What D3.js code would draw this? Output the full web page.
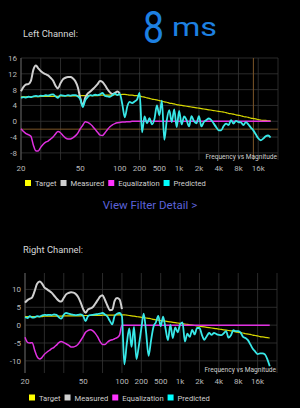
<!DOCTYPE html>
<html lang="en">
  <head>
    <meta charset="utf-8">
    <title>Filter Response</title>
    <script src="https://d3js.org/d3.v7.min.js"></script>
    <style>
      html, body { margin: 0; padding: 0; background: #000; }
    </style>
  </head>
  <body>
    <script type="text/javascript">
      // frequency points shared by every series (Hz)
      const freqs = [
        20,20.8,21.6,22.4,23.3,24.2,25.2,26.1,
        27.1,28.2,29.3,30.4,31.6,32.8,34.1,35.4,
        36.8,38.2,39.7,41.3,42.9,44.5,46.3,48.1,
        50,52.2,54.5,56.9,59.5,62.1,64.8,67.7,
        70.7,73.8,77.1,80.5,84.1,87.8,91.7,95.8,
        100,109,119,130,141,154,168,183,
        200,224,251,282,316,355,398,446,
        500,545,595,648,707,771,841,917,
        1000,1090,1189,1297,1414,1542,1682,1834,
        2000,2181,2378,2594,2828,3084,3364,3668,
        4000,4362,4757,5187,5657,6169,6727,7336,
        8000,8724,9514,10375,11314,12338,13454,14672,
        16000,16731,17495,18294,19127,20000
      ];

      const xTickFreqs = [20, 50, 100, 200, 500, 1000, 2000, 4000, 8000, 16000];
      const xTickLabels = ["20", "50", "100", "200", "500", "1k", "2k", "4k", "8k", "16k"];

      const legendNames = ["Target", "Measured", "Equalization", "Predicted"];

      // left channel (dB)
      const leftTarget = [
        6.2,6.2,6.2,6.2,6.2,6.2,6.2,6.2,
        6.3,6.3,6.3,6.3,6.3,6.3,6.3,6.3,
        6.4,6.4,6.4,6.4,6.4,6.4,6.4,6.4,
        6.5,6.5,6.5,6.5,6.5,6.5,6.5,6.5,
        6.6,6.6,6.6,6.6,6.6,6.6,6.7,6.7,
        6.7,6.8,6.8,6.7,6.6,6.6,6.5,6.5,
        6.4,6.2,6.1,5.9,5.8,5.6,5.5,5.4,
        5.2,5.1,4.9,4.8,4.6,4.5,4.4,4.2,
        4.1,4.0,3.9,3.8,3.7,3.6,3.5,3.4,
        3.3,3.2,3.1,3.0,2.9,2.8,2.7,2.6,
        2.5,2.4,2.3,2.2,2.0,1.9,1.8,1.6,
        1.5,1.4,1.2,1.1,1.0,0.8,0.7,0.6,
        0.4,0.3,0.2,0.2,0.1,0.1
      ];
      const leftMeasured = [
        7.6,8.7,9.3,9.4,10.2,13.0,14.1,13.4,
        12.7,12.2,11.9,11.6,11.0,10.3,9.0,8.3,
        9.6,10.6,11.0,11.2,11.2,10.9,10.1,8.6,
        5.8,4.0,6.0,7.0,7.5,8.1,8.7,9.4,
        10.2,9.9,9.1,8.1,7.3,6.9,7.2,7.5,
        7.0
      ];
      const leftEq = [
        -1.9,-2.6,-3.1,-3.4,-3.8,-6.0,-7.5,-7.5,
        -6.6,-5.8,-5.3,-5.0,-4.5,-4.0,-3.2,-2.6,
        -2.9,-3.6,-4.2,-4.5,-4.5,-4.2,-3.7,-3.0,
        -1.9,-1.0,-0.1,-0.3,-0.7,-1.3,-2.0,-2.8,
        -3.5,-3.6,-2.9,-2.1,-1.4,-0.9,-0.6,-0.4,
        -0.3,-0.2,-0.2,-0.1,-0.1,0,0,0,
        0,0,0,0,0,0,0,0,
        0,0,0,0,0,0,0,0,
        0,0,0,0,0,0,0,0,
        0,0,0,0,0,0,0,0,
        0,0,0,0,0,0,0,0,
        0,0,0,0,0,0,0,0,
        0,0,0,0,0,0
      ];
      const leftPredicted = [
        5.9,6.1,6.0,6.2,6.1,6.3,6.4,6.3,
        6.5,6.4,6.6,6.5,6.7,6.8,6.3,5.9,
        6.6,6.5,6.4,6.6,6.5,6.6,6.6,6.3,
        5.6,3.6,5.3,6.1,6.6,6.5,6.7,6.6,
        6.8,7.2,6.4,6.3,6.2,6.6,7.0,6.6,
        6.9,4.3,1.0,3.8,4.9,4.6,5.0,5.5,
        7.2,-2.8,1.2,-0.5,0.8,-0.8,0.6,4.0,
        1.5,5.2,-4.7,0.3,2.8,-0.2,3.0,-1.5,
        2.6,-0.8,1.2,0.3,-1.3,1.3,0.0,-0.5,
        1.3,-1.3,-0.2,0.3,0.7,0.3,-0.6,-1.5,
        -2.3,-2.3,-1.2,-0.6,-1.0,0.3,-0.6,0.1,
        -0.2,-0.3,-1.0,-0.2,-0.8,-1.6,-2.3,-3.3,
        -4.3,-4.8,-4.4,-3.8,-3.6,-4.1
      ];
      const leftLimitDb = -2;
      const leftLimitHz = 13500;

      // right channel (dB)
      const rightTarget = [
        2.4,2.4,2.4,2.4,2.4,2.4,2.4,2.4,
        2.5,2.5,2.5,2.5,2.5,2.5,2.5,2.5,
        2.6,2.6,2.6,2.6,2.6,2.6,2.6,2.6,
        2.7,2.7,2.7,2.7,2.7,2.7,2.7,2.7,
        2.8,2.8,2.8,2.8,2.8,2.8,2.9,2.9,
        2.9,2.9,2.8,2.7,2.6,2.5,2.4,2.3,
        2.2,2.1,2.0,1.9,1.8,1.6,1.5,1.4,
        1.3,1.2,1.1,1.0,0.9,0.8,0.7,0.6,
        0.5,0.4,0.3,0.2,0.1,0.0,-0.1,-0.2,
        -0.3,-0.4,-0.5,-0.6,-0.7,-0.8,-0.9,-1.0,
        -1.1,-1.2,-1.3,-1.4,-1.5,-1.6,-1.7,-1.9,
        -2.0,-2.1,-2.2,-2.4,-2.5,-2.6,-2.8,-2.9,
        -3.0,-3.2,-3.3,-3.4,-3.5,-3.6
      ];
      const rightMeasured = [
        6.3,7.0,7.4,7.8,9.6,11.6,12.2,11.7,
        10.6,10.1,9.6,9.1,8.3,7.5,6.8,6.6,
        7.6,8.6,9.0,9.2,9.1,8.7,7.8,6.3,
        4.5,3.5,4.4,4.7,5.1,6.0,7.0,8.0,
        8.4,7.1,5.5,4.2,4.3,6.8,7.6,7.2,
        4.5
      ];
      const rightEq = [
        -3.4,-4.8,-5.0,-4.9,-7.0,-8.8,-9.5,-9.1,
        -8.2,-7.6,-7.1,-6.6,-6.2,-5.6,-4.9,-4.6,
        -4.9,-5.2,-5.6,-6.1,-6.1,-5.9,-5.3,-4.3,
        -3.2,-2.0,-1.5,-1.3,-1.6,-2.3,-3.3,-4.6,
        -5.4,-5.4,-4.8,-4.3,-4.1,-3.8,-3.5,-2.8,
        0,0,0,0,0,0,0,0,
        0,0,0,0,0,0,0,0,
        0,0,0,0,0,0,0,0,
        0,0,0,0,0,0,0,0,
        0,0,0,0,0,0,0,0,
        0,0,0,0,0,0,0,0,
        0,0,0,0,0,0,0,0,
        0,0,0,0,0,0
      ];
      const rightPredicted = [
        2.2,2.0,2.5,2.1,2.2,2.5,2.4,2.7,
        2.9,2.8,2.9,2.8,3.0,2.9,2.2,1.8,
        2.9,3.4,3.2,3.0,2.9,2.8,2.9,3.0,
        2.6,1.1,2.5,2.8,2.9,3.0,3.1,3.2,
        3.4,3.0,2.4,1.2,0.2,2.6,3.2,3.4,
        2.5,-11.0,-5.2,-0.9,-6.1,-0.5,-9.5,-5.8,
        -1.0,3.2,-2.0,-8.6,-4.4,-0.5,0.8,2.6,
        -0.3,2.4,-1.0,-4.2,0.1,-3.6,-0.6,-2.0,
        0.2,0.8,-4.6,-2.4,-3.3,-1.3,-2.6,-0.8,
        -0.8,-2.7,-4.1,-3.1,-2.2,-2.7,-2.2,-2.5,
        -2.7,-2.8,-2.3,-1.7,-3.5,-2.8,-1.4,-1.7,
        -1.7,-2.1,-3.3,-3.6,-4.2,-5.4,-6.6,-7.4,
        -8.1,-7.9,-7.9,-8.2,-9.5,-11.5
      ];

      const font = "Roboto";
      const colTarget = "#d8d800";
      const colMeasured = "#cfcfcf";
      const colEq = "#e030e0";
      const colPredicted = "#38e8e8";
      const legendColors = ["#ffff00", "#d0d0d0", "#ff33ff", "#00ffff"];
      const gridColor = "#363636";
      const labelColor = "#b8b8b8";

      // the app's x axis: 13 even columns, labels sit on some of them
      const breakFreqs = [20, 50, 100, 200, 500, 1000, 2000, 4000, 8000, 16000, 20000];
      const breakCols = [0, 3, 5, 6, 7, 8, 9, 10, 11, 12, 12.625];
      const nCols = 13;

      const svg = d3.select("body")
        .append("svg")
        .attr("width", 300)
        .attr("height", 408)
        .style("background", "#000")
        .style("display", "block");

      // handwritten note
      svg.append("text")
        .attr("x", 143)
        .attr("y", 43)
        .attr("font-family", font)
        .attr("font-weight", 400)
        .attr("font-size", 44)
        .attr("textLength", 21)
        .attr("lengthAdjust", "spacingAndGlyphs")
        .attr("fill", "#1d80e2")
        .text("8");
      svg.append("text")
        .attr("x", 172)
        .attr("y", 35.5)
        .attr("font-family", font)
        .attr("font-weight", 400)
        .attr("font-size", 25)
        .attr("textLength", 45)
        .attr("lengthAdjust", "spacingAndGlyphs")
        .attr("fill", "#1d80e2")
        .text("ms");

      function drawChannel(cfg) {
        const g = svg.append("g");

        g.append("text")
          .attr("x", 23)
          .attr("y", cfg.titleY)
          .attr("font-family", font)
          .attr("font-size", "9.4px")
          .attr("fill", "#d6d6d6")
          .text(cfg.title);

        const colX = d3.scaleLinear().domain([0, nCols]).range([cfg.left, cfg.right]);
        const xLog = d3.scaleLinear()
          .domain(breakFreqs.map(Math.log10))
          .range(breakCols.map(c => colX(c)));
        const x = f => xLog(Math.log10(f));
        const y = d3.scaleLinear().domain(cfg.yDomain).range([cfg.bottom, cfg.top]);

        // grid
        g.append("g").selectAll("line")
          .data(d3.range(nCols + 1))
          .enter()
          .append("line")
          .attr("x1", d => colX(d)).attr("x2", d => colX(d))
          .attr("y1", cfg.top).attr("y2", cfg.bottom)
          .attr("stroke", gridColor)
          .attr("stroke-width", 0.8);

        g.append("g").selectAll("line")
          .data(cfg.yTicks)
          .enter()
          .append("line")
          .attr("x1", cfg.left).attr("x2", cfg.right)
          .attr("y1", d => y(d)).attr("y2", d => y(d))
          .attr("stroke", gridColor)
          .attr("stroke-width", 0.8);

        g.append("line")
          .attr("x1", cfg.left).attr("x2", cfg.left)
          .attr("y1", cfg.top).attr("y2", cfg.bottom)
          .attr("stroke", "#5a5a5a")
          .attr("stroke-width", 1);

        // y labels
        g.append("g").selectAll("text")
          .data(cfg.yTicks)
          .enter()
          .append("text")
          .attr("x", cfg.left - 4)
          .attr("y", d => y(d) + 3)
          .attr("text-anchor", "end")
          .attr("font-family", font)
          .attr("font-size", "8px")
          .attr("fill", labelColor)
          .text(d => d);

        // x labels
        g.append("g").selectAll("text")
          .data(xTickFreqs)
          .enter()
          .append("text")
          .attr("x", d => x(d))
          .attr("y", cfg.bottom + 10.5)
          .attr("text-anchor", "middle")
          .attr("font-family", font)
          .attr("font-size", "8px")
          .attr("fill", labelColor)
          .text((d, i) => xTickLabels[i]);

        if (cfg.limitDb !== undefined) {
          g.append("line")
            .attr("x1", cfg.left).attr("x2", cfg.right)
            .attr("y1", y(cfg.limitDb)).attr("y2", y(cfg.limitDb))
            .attr("stroke", "#7d5628")
            .attr("stroke-width", 1);
          g.append("line")
            .attr("x1", x(cfg.limitHz)).attr("x2", x(cfg.limitHz))
            .attr("y1", cfg.top).attr("y2", cfg.bottom)
            .attr("stroke", "#7d5628")
            .attr("stroke-width", 1);
        }

        const line = d3.line()
          .x((d, i) => x(freqs[i]))
          .y(d => y(d))
          .curve(d3.curveMonotoneX);

        const series = [
          { values: cfg.target, color: colTarget, width: 1.2 },
          { values: cfg.measured, color: colMeasured, width: 2 },
          { values: cfg.eq, color: colEq, width: 1.5 },
          { values: cfg.predicted, color: colPredicted, width: 1.8 }
        ];

        g.append("g").selectAll("path")
          .data(series)
          .enter()
          .append("path")
          .attr("d", d => line(d.values))
          .attr("fill", "none")
          .attr("stroke", d => d.color)
          .attr("stroke-width", d => d.width)
          .attr("stroke-linejoin", "round");

        g.append("text")
          .attr("x", cfg.right - 1)
          .attr("y", cfg.bottom - 1)
          .attr("text-anchor", "end")
          .attr("font-family", font)
          .attr("font-size", "6.6px")
          .attr("fill", "#d0d0d0")
          .text("Frequency vs Magnitude");

        // legend
        let lx = cfg.left + 4;
        legendNames.forEach((name, i) => {
          g.append("rect")
            .attr("x", lx)
            .attr("y", cfg.legendY - 3)
            .attr("width", 6)
            .attr("height", 6)
            .attr("fill", legendColors[i]);
          const t = g.append("text")
            .attr("x", lx + 10)
            .attr("y", cfg.legendY + 3)
            .attr("font-family", font)
            .attr("font-size", "7.6px")
            .attr("fill", "#d0d0d0")
            .text(name);
          lx += 10 + t.node().getComputedTextLength() + 4;
        });
      }

      drawChannel({
        title: "Left Channel:", titleY: 37,
        left: 21, right: 278, top: 58, bottom: 160,
        yDomain: [-9.8, 16], yTicks: [-8, -4, 0, 4, 8, 12, 16],
        legendY: 183,
        target: leftTarget, measured: leftMeasured, eq: leftEq, predicted: leftPredicted,
        limitDb: leftLimitDb, limitHz: leftLimitHz
      });

      drawChannel({
        title: "Right Channel:", titleY: 253,
        left: 25, right: 277, top: 273, bottom: 373,
        yDomain: [-13.4, 14.6], yTicks: [-10, -5, 0, 5, 10],
        legendY: 397.5,
        target: rightTarget, measured: rightMeasured, eq: rightEq, predicted: rightPredicted
      });

      svg.append("text")
        .attr("x", 150)
        .attr("y", 209)
        .attr("text-anchor", "middle")
        .attr("font-family", font)
        .attr("font-size", "11.5px")
        .attr("fill", "#5b62d8")
        .text("View Filter Detail >");
    </script>
  </body>
</html>
